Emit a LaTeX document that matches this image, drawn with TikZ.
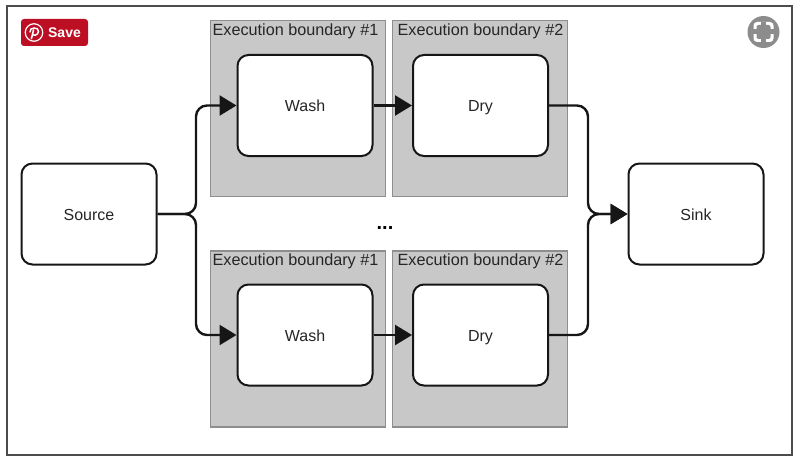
\documentclass[tikz,border=0pt]{standalone}
\usepackage{fontspec}
\setmainfont{Liberation Sans}
\usetikzlibrary{arrows.meta}
\definecolor{boundFill}{HTML}{C8C8C8}
\definecolor{boundLine}{HTML}{8E8E8E}
\definecolor{flowLine}{HTML}{161616}
\definecolor{saveRed}{HTML}{BD0F24}
\definecolor{zoomGrey}{HTML}{8C8C8C}
\tikzset{
    boundary/.style={draw=boundLine, fill=boundFill, line width=1.5pt, minimum width=175pt, minimum height=176pt, inner sep=0pt},
    boundlabel/.style={font=\fontsize{16.2}{18}\selectfont, text=black!85, inner sep=0pt, anchor=north},
    stage/.style={draw=flowLine, fill=white, line width=2pt, rounded corners=11pt, minimum width=135pt, minimum height=101pt, inner sep=0pt, text height=14pt, text depth=2pt, font=\fontsize{16}{18}\selectfont, text=black!85},
    flow/.style={draw=flowLine, line width=2.4pt, rounded corners=11pt, -{Triangle[length=17pt, width=20pt]}}
}
\begin{document}
\begin{tikzpicture}[x=1pt, y=-1pt]
    \useasboundingbox (0,0) rectangle (800,460);
    \node[draw=black!70, line width=1.2pt, minimum width=785pt, minimum height=449pt, inner sep=0pt] (frame) at (399.5,230.5) {};

    \node[boundary] (bound1) at (298,108.5) {};
    \node[boundary] (bound2) at (480,108.5) {};
    \node[boundary] (bound3) at (298,339) {};
    \node[boundary] (bound4) at (480,339) {};
    \node[boundlabel] (label1) at ([xshift=-2.5pt, yshift=-4pt]bound1.north) {Execution boundary \#1};
    \node[boundlabel] (label2) at ([xshift=0.5pt, yshift=-4pt]bound2.north) {Execution boundary \#2};
    \node[boundlabel] (label3) at ([xshift=-2.5pt, yshift=-3pt]bound3.north) {Execution boundary \#1};
    \node[boundlabel] (label4) at ([xshift=0.5pt, yshift=-3pt]bound4.north) {Execution boundary \#2};

    \node[stage] (source) at (89,214) {Source};
    \node[stage] (washTop) at (305,105.5) {Wash};
    \node[stage] (dryTop) at (480.5,105.5) {Dry};
    \node[stage] (washLow) at (305,335) {Wash};
    \node[stage] (dryLow) at (480.5,335) {Dry};
    \node[stage] (sink) at (696,214) {Sink};
    \node[font=\bfseries\fontsize{20}{20}\selectfont, inner sep=0pt] (dots) at (385,228) {...};

    \coordinate (fork) at (196,214);
    \coordinate (join) at (588,214);
    \draw[flow] (source.east) -- (fork) |- (washTop.west);
    \draw[flow] (source.east) -- (fork) |- (washLow.west);
    \draw[flow] (washTop.east) -- (dryTop.west);
    \draw[flow] (washLow.east) -- (dryLow.west);
    \draw[flow] (dryTop.east) -| (join) -- (sink.west);
    \draw[flow] (dryLow.east) -| (join) -- (sink.west);

    \node[fill=saveRed, rounded corners=3pt, minimum width=67pt, minimum height=27pt, inner sep=0pt] (save) at (54.5,32.5) {};
    \node[font=\bfseries\fontsize{14}{14}\selectfont, text=white, inner sep=0pt] (saveText) at (64.5,33) {Save};
    \node[circle, draw=white, line width=1.2pt, minimum size=17.5pt, inner sep=0pt] (pin) at (34,32.5) {};
    \draw[white, line width=1.6pt, line cap=round] (33.5,30) -- (31.5,38.5);
    \draw[white, line width=1.5pt, line cap=round] (30,32) .. controls (29,27) and (39,26.5) .. (38.5,31.5) .. controls (38,35.5) and (33.5,36) .. (32.5,34);

    \node[circle, fill=zoomGrey, minimum size=32pt, inner sep=0pt] (expand) at (763.5,32) {};
    \node[fill=white, rounded corners=3.5pt, minimum size=20pt, inner sep=0pt] (expandOut) at (expand.center) {};
    \node[fill=zoomGrey, rounded corners=2pt, minimum size=14pt, inner sep=0pt] (expandIn) at (expand.center) {};
    \draw[zoomGrey, line width=5pt] (expandOut.north) -- (expandOut.south);
    \draw[zoomGrey, line width=5pt] (expandOut.west) -- (expandOut.east);
\end{tikzpicture}
\end{document}
